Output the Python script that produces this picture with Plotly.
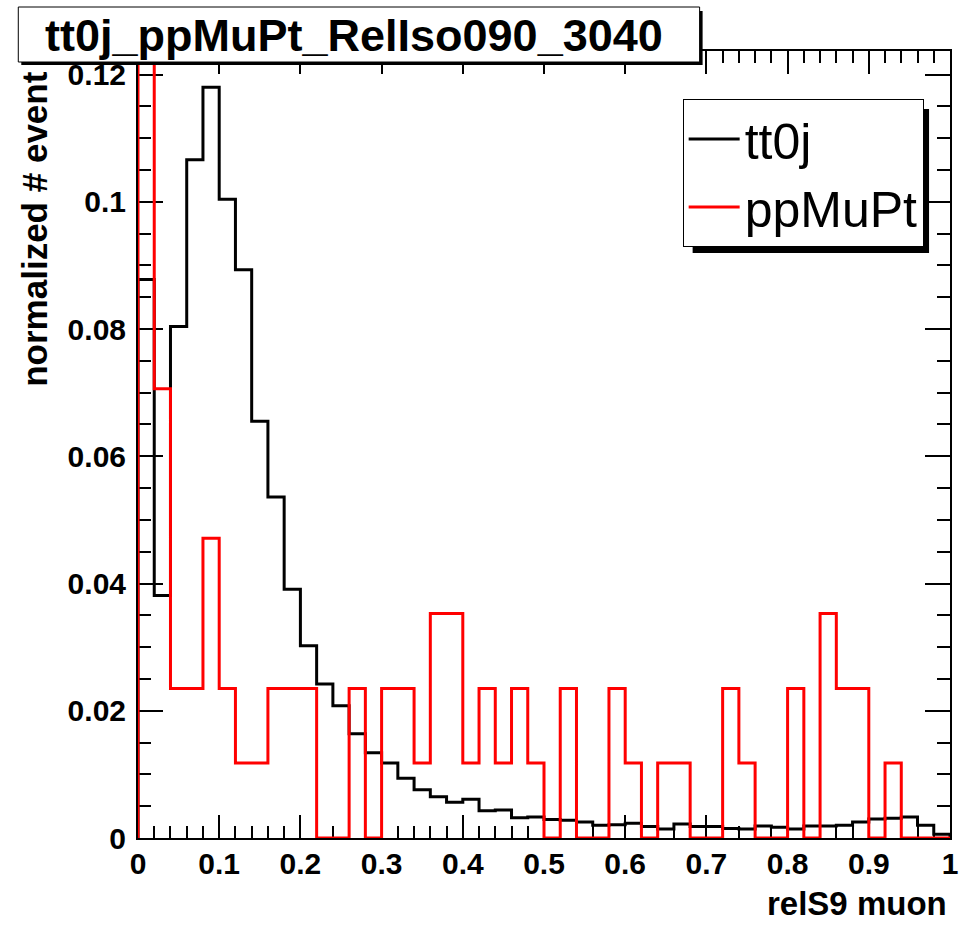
import numpy as np
import plotly.graph_objects as go

# ---- data ----
n_bins = 50
x_min, x_max = 0.0, 1.0

tt0j = [0.0878, 0.0381, 0.0804, 0.1066, 0.1180, 0.1004, 0.0893, 0.0655, 0.0536, 0.0391,
        0.0302, 0.0242, 0.0208, 0.0164, 0.0134, 0.0118, 0.0094, 0.0076, 0.0065, 0.0056,
        0.0061, 0.0043, 0.0044, 0.0032, 0.0033, 0.0029, 0.0028, 0.0025, 0.0020, 0.0021,
        0.0023, 0.0018, 0.0014, 0.0022, 0.0018, 0.0018, 0.0015, 0.0014, 0.0019, 0.0017,
        0.0014, 0.0019, 0.0019, 0.0020, 0.0025, 0.0030, 0.0031, 0.0033, 0.0020, 0.0006]

ppMuPt = [0.2471, 0.0706, 0.0235, 0.0235, 0.0471, 0.0235, 0.0118, 0.0118, 0.0235, 0.0235,
          0.0235, 0.0, 0.0, 0.0235, 0.0, 0.0235, 0.0235, 0.0118, 0.0353, 0.0353,
          0.0118, 0.0235, 0.0118, 0.0235, 0.0118, 0.0, 0.0235, 0.0, 0.0, 0.0235,
          0.0118, 0.0, 0.0118, 0.0118, 0.0, 0.0, 0.0235, 0.0118, 0.0, 0.0,
          0.0235, 0.0, 0.0353, 0.0235, 0.0235, 0.0, 0.0118, 0.0, 0.0, 0.0]

series_names = ["tt0j", "ppMuPt"]
series_colors = ["#000000", "#ff0000"]
title_text = "tt0j_ppMuPt_RelIso090_3040"
x_title = "relS9 muon"
y_title = "normalized # event"
y_max = 0.1237

# ---- layout constants ----
W, H = 970, 936
L, R, T, B = 138, 18, 51, 98
PW, PH = W - L - R, H - T - B
FONT = "Liberation Sans, Arial, Helvetica, sans-serif"


def px2paper_x(px):
    return (px - L) / PW


def px2paper_y(py):
    return (H - B - py) / PH


edges = np.linspace(x_min, x_max, n_bins + 1)


def step_xy(vals):
    xs = [edges[0]] + list(edges[:-1]) + [edges[-1], edges[-1]]
    ys = [0.0] + list(vals) + [vals[-1], 0.0]
    return xs, ys


fig = go.Figure()
for name, vals, col in zip(series_names, [tt0j, ppMuPt], series_colors):
    xs, ys = step_xy(vals)
    fig.add_trace(go.Scatter(x=xs, y=ys, mode="lines", name=name,
                             line=dict(color=col, width=3, shape="hv"),
                             hoverinfo="skip"))

axis_common = dict(
    showline=True, linecolor="black", linewidth=2, mirror="ticks",
    ticks="inside", tickcolor="black", tickwidth=1.5,
    showgrid=False, zeroline=False,
    tickfont=dict(family=FONT, size=30, color="black", weight="bold"),
    layer="below traces",
)

fig.update_xaxes(range=[x_min, x_max], dtick=0.1, tick0=0, ticklen=23,
                 minor=dict(dtick=0.02, ticklen=12, ticks="inside", tickcolor="black", tickwidth=1.5),
                 ticklabelstandoff=-2, **axis_common)
fig.update_yaxes(range=[0, y_max], dtick=0.02, tick0=0, ticklen=25,
                 minor=dict(dtick=0.005, ticklen=13, ticks="inside", tickcolor="black", tickwidth=1.5),
                 ticklabelstandoff=4, **axis_common)

shapes = []
# title box shadow and box
shapes.append(dict(type="rect", xref="paper", yref="paper", layer="above",
                   x0=px2paper_x(21), x1=px2paper_x(704), y0=px2paper_y(11), y1=px2paper_y(65),
                   fillcolor="black", line=dict(width=0)))
shapes.append(dict(type="rect", xref="paper", yref="paper", layer="above",
                   x0=px2paper_x(18), x1=px2paper_x(701), y0=px2paper_y(7), y1=px2paper_y(62),
                   fillcolor="white", line=dict(color="black", width=1)))
# legend shadow
shapes.append(dict(type="rect", xref="paper", yref="paper", layer="above",
                   x0=px2paper_x(694), x1=px2paper_x(931), y0=px2paper_y(109), y1=px2paper_y(253),
                   fillcolor="black", line=dict(width=0)))

annotations = [
    dict(text=title_text, xref="paper", yref="paper", x=px2paper_x(355), y=px2paper_y(35),
         xanchor="center", yanchor="middle", showarrow=False,
         font=dict(family=FONT, size=45, color="black", weight="bold")),
    dict(text=x_title, xref="paper", yref="paper", x=px2paper_x(951), y=px2paper_y(903),
         xanchor="right", yanchor="middle", showarrow=False,
         font=dict(family=FONT, size=33, color="black", weight="bold")),
    dict(text=y_title, xref="paper", yref="paper", x=px2paper_x(34), y=px2paper_y(70),
         xanchor="center", yanchor="top", textangle=-90, showarrow=False,
         font=dict(family=FONT, size=35, color="black", weight="bold")),
]

fig.update_layout(
    width=W, height=H,
    margin=dict(l=L, r=R, t=T, b=B, pad=0),
    paper_bgcolor="white", plot_bgcolor="white",
    showlegend=True,
    legend=dict(x=px2paper_x(684), y=px2paper_y(99), xanchor="left", yanchor="top",
                bgcolor="white", bordercolor="black", borderwidth=1,
                font=dict(family=FONT, size=50, color="black"),
                itemwidth=51, tracegroupgap=0),
    shapes=shapes,
    annotations=annotations,
)

fig.write_html("out.html")
